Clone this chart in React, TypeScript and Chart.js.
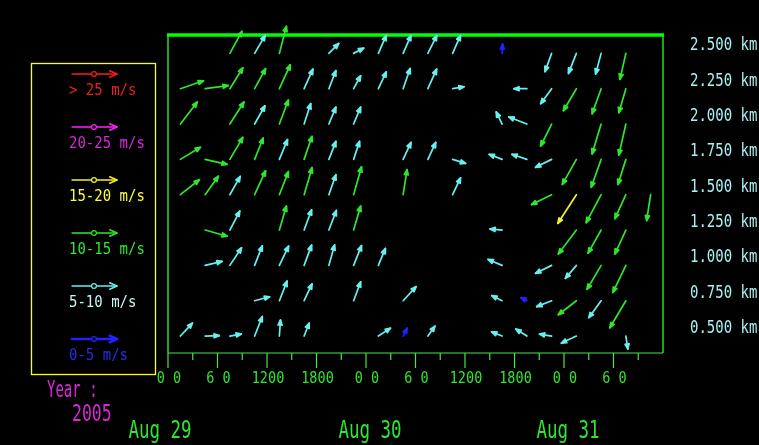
import React, { useEffect, useRef } from 'react';
import { Chart, registerables } from 'chart.js';
Chart.register(...registerables);

// Each observation: [hour since 00 UTC Aug 29, u (m/s, east), v (m/s, north)]
const GATE_2500 = [[7.5,5.5,10.0],[10.5,4.8,8.2],[13.5,3.2,12.3],[19.5,4.5,4.5],[22.5,4.6,2.4],[25.5,3.6,8.2],[28.5,3.6,8.2],[31.5,4.1,8.2],[34.5,3.6,8.2],[40.5,0.2,4.3],[46.5,-3.0,-8.3],[49.5,-3.6,-9.1],[52.5,-2.5,-9.4],[55.5,-2.7,-11.8]];
const GATE_2250 = [[1.5,10.5,3.6],[4.5,10.5,1.4],[7.5,5.9,9.5],[10.5,5.0,9.1],[13.5,5.0,10.9],[16.5,4.0,8.9],[19.5,3.2,8.2],[22.5,3.2,5.9],[25.5,3.6,7.7],[28.5,3.2,9.2],[31.5,4.0,8.9],[34.5,5.2,0.9],[43.5,-5.9,0],[46.5,-5.0,-6.8],[49.5,-5.9,-10.0],[52.5,-4.1,-11.4],[55.5,-3.2,-10.9]];
const GATE_2000 = [[1.5,7.7,10.0],[7.5,6.4,10.0],[10.5,4.7,8.3],[13.5,4.1,10.9],[16.5,3.0,9.3],[19.5,3.2,7.7],[22.5,3.2,7.7],[40.5,-2.7,5.5],[43.5,-8.2,3.2],[46.5,-5.0,-10.0],[52.5,-4.1,-13.6],[55.5,-3.2,-14.1]];
const GATE_1750 = [[1.5,9.1,5.5],[4.5,10.0,-2.3],[7.5,5.9,10.0],[10.5,3.9,9.7],[13.5,3.7,9.0],[16.5,3.6,10.5],[19.5,3.2,8.2],[22.5,2.7,8.2],[28.5,3.6,7.7],[31.5,3.6,7.7],[34.5,5.9,-1.8],[40.5,-5.9,2.3],[43.5,-6.8,2.3],[46.5,-7.3,-3.6],[49.5,-6.4,-11.4],[52.5,-4.5,-12.7],[55.5,-3.6,-11.4]];
const GATE_1500 = [[1.5,8.6,6.8],[4.5,6.0,8.4],[7.5,4.7,8.3],[10.5,5.0,10.9],[13.5,4.1,10.5],[16.5,3.6,12.3],[19.5,3.2,9.1],[22.5,3.6,12.7],[28.5,1.8,11.4],[34.5,3.6,7.7],[46.5,-9.1,-4.5],[49.5,-8.4,-13.0],[52.5,-6.8,-12.7],[55.5,-5.0,-10.9],[58.5,-1.8,-11.8]];
const GATE_1250 = [[4.5,10.0,-2.8],[7.5,4.5,8.6],[13.5,3.2,10.9],[16.5,3.4,9.2],[19.5,3.4,8.9],[22.5,3.2,10.9],[40.5,-5.5,0.5],[49.5,-8.2,-10.9],[52.5,-5.9,-10.5],[55.5,-5.0,-10.9]];
const GATE_1000 = [[4.5,7.7,1.8],[7.5,5.3,8.0],[10.5,3.5,8.9],[13.5,4.2,8.8],[16.5,3.4,9.2],[19.5,2.6,9.3],[22.5,3.6,9.0],[25.5,3.2,7.7],[40.5,-6.4,2.7],[46.5,-7.3,-3.6],[49.5,-5.0,-5.9],[52.5,-6.4,-10.9],[55.5,-5.9,-12.3]];
const GATE_0750 = [[10.5,6.8,1.8],[13.5,3.5,8.9],[16.5,3.6,7.7],[22.5,3.2,8.6],[28.5,5.9,6.4],[40.5,-4.7,2.3],[43.5,-2.7,1.4],[46.5,-6.8,-2.7],[49.5,-8.2,-6.4],[52.5,-5.6,-7.7],[55.5,-7.3,-12.3]];
const GATE_0500 = [[1.5,5.5,5.9],[4.5,6.4,0.2],[7.5,5.2,0.9],[10.5,3.5,8.9],[13.5,0.5,7.3],[16.5,2.3,5.9],[25.5,5.5,3.6],[28.5,1.8,3.6],[31.5,3.2,4.5],[40.5,-4.8,1.9],[43.5,-5.0,3.2],[46.5,-5.5,0.9],[49.5,-6.8,-3.2],[55.5,0.9,-5.9]];

const GATE_HEIGHTS = [2.5, 2.25, 2.0, 1.75, 1.5, 1.25, 1.0, 0.75, 0.5];
const GATE_ROWS = [GATE_2500, GATE_2250, GATE_2000, GATE_1750, GATE_1500, GATE_1250, GATE_1000, GATE_0750, GATE_0500];

const LEGEND_LABELS = ['> 25 m/s', '20-25 m/s', '15-20 m/s', '10-15 m/s', '5-10 m/s', '0-5 m/s'];
const BIN_LOW = [25, 20, 15, 10, 5, 0];
const BIN_HIGH = [999, 25, 20, 15, 10, 5];
const ARROW_COLORS = ['#ff1a1a', '#ff22ff', '#f4f420', '#2ee62e', '#66f0f0', '#2222ff'];
const LEGEND_TEXT_COLORS = ['#e82020', '#d828d8', '#ffff30', '#30e830', '#c8f4f4', '#2a2ae8'];

const X_TICK_HOURS = [0, 6, 12, 18, 24, 30, 36, 42, 48, 54];
const X_TICK_LABELS = ['0 0', '6 0', '1200', '1800', '0 0', '6 0', '1200', '1800', '0 0', '6 0'];
const MINOR_TICK_HOURS = [3, 9, 15, 21, 27, 33, 39, 45, 51, 57];
const DATE_HOURS = [0, 24, 48];
const DATE_LABELS = ['Aug 29', 'Aug 30', 'Aug 31'];
const YEAR = '2005';

const PX_PER_MS = 2.2;
const MONO = '"DejaVu Sans Mono", "Liberation Mono", monospace';

function txt(ctx: CanvasRenderingContext2D, s: string, x: number, y: number, size: number, color: string, align: CanvasTextAlign, sy: number) {
  ctx.save();
  ctx.translate(x, y);
  ctx.scale(1, sy);
  ctx.font = `${size}px ${MONO}`;
  ctx.fillStyle = color;
  ctx.textAlign = align;
  ctx.textBaseline = 'middle';
  ctx.fillText(s, 0, 0);
  ctx.restore();
}

function arrow(ctx: CanvasRenderingContext2D, x0: number, y0: number, x1: number, y1: number, color: string, lw: number, head: number, filled: boolean) {
  const a = Math.atan2(y1 - y0, x1 - x0);
  const spread = filled ? 0.38 : 0.42;
  const p1x = x1 - head * Math.cos(a - spread), p1y = y1 - head * Math.sin(a - spread);
  const p2x = x1 - head * Math.cos(a + spread), p2y = y1 - head * Math.sin(a + spread);
  ctx.save();
  ctx.strokeStyle = color;
  ctx.fillStyle = color;
  ctx.lineWidth = lw;
  ctx.lineCap = 'round';
  ctx.lineJoin = 'round';
  ctx.beginPath();
  ctx.moveTo(x0, y0);
  ctx.lineTo(x1, y1);
  ctx.stroke();
  ctx.beginPath();
  ctx.moveTo(p1x, p1y);
  ctx.lineTo(x1, y1);
  ctx.lineTo(p2x, p2y);
  if (filled) {
    ctx.closePath();
    ctx.fill();
  }
  ctx.stroke();
  ctx.restore();
}

const windPlugin = {
  id: 'windProfiler',
  beforeDraw(chart: any) {
    const ctx = chart.ctx;
    ctx.save();
    ctx.fillStyle = '#000';
    ctx.fillRect(0, 0, chart.width, chart.height);
    ctx.restore();
  },
  beforeDatasetsDraw(chart: any) {
    const ctx = chart.ctx as CanvasRenderingContext2D;
    const xs = chart.scales.x, ys = chart.scales.y;
    const L = xs.getPixelForValue(xs.min), R = xs.getPixelForValue(xs.max);
    const T = ys.getPixelForValue(ys.max), B = ys.getPixelForValue(ys.min);
    ctx.save();
    ctx.strokeStyle = '#22e022';
    ctx.lineWidth = 1.5;
    ctx.beginPath();
    ctx.moveTo(L, T); ctx.lineTo(L, B);
    ctx.moveTo(R, T); ctx.lineTo(R, B);
    ctx.stroke();
    ctx.strokeStyle = '#44e844';
    ctx.lineWidth = 1.2;
    ctx.beginPath();
    ctx.moveTo(L, B); ctx.lineTo(R, B);
    X_TICK_HOURS.forEach((h) => { const px = xs.getPixelForValue(h); ctx.moveTo(px, B); ctx.lineTo(px, B + 15); });
    MINOR_TICK_HOURS.forEach((h) => { const px = xs.getPixelForValue(h); ctx.moveTo(px, B); ctx.lineTo(px, B + 7); });
    ctx.stroke();
    ctx.strokeStyle = '#00ff00';
    ctx.lineWidth = 3.5;
    ctx.beginPath();
    ctx.moveTo(L - 1, T); ctx.lineTo(R + 1, T);
    ctx.stroke();
    ctx.restore();

    X_TICK_HOURS.forEach((h, i) => txt(ctx, X_TICK_LABELS[i], xs.getPixelForValue(h) + 1, B + 26, 13.5, '#2ee62e', 'center', 1.15));
    DATE_HOURS.forEach((h, i) => txt(ctx, DATE_LABELS[i], xs.getPixelForValue(h) + (i === 0 ? -8 : 4), B + 79, 17.5, '#2ee62e', 'center', 1.4));
    GATE_HEIGHTS.forEach((h) => txt(ctx, `${h.toFixed(3)} km`, R + 27, ys.getPixelForValue(h) - 7.5, 14, '#a8f2f2', 'left', 1.25));
  },
  afterDatasetsDraw(chart: any) {
    const ctx = chart.ctx as CanvasRenderingContext2D;
    chart.data.datasets.forEach((ds: any, di: number) => {
      const meta = chart.getDatasetMeta(di);
      meta.data.forEach((pt: any, i: number) => {
        const d = ds.data[i];
        arrow(ctx, pt.x, pt.y, pt.x + d.u * PX_PER_MS, pt.y - d.v * PX_PER_MS, ds.borderColor, 1.7, 5.5, true);
      });
    });
  },
  afterDraw(chart: any) {
    const ctx = chart.ctx as CanvasRenderingContext2D;
    ctx.save();
    ctx.strokeStyle = '#ffff00';
    ctx.lineWidth = 1.3;
    ctx.strokeRect(31.5, 63.5, 124, 311);
    ctx.restore();
    LEGEND_LABELS.forEach((lab, i) => {
      const ay = 74 + i * 53;
      arrow(ctx, 72, ay, 117, ay, ARROW_COLORS[i], i === 5 ? 2.6 : 1.4, 8, false);
      ctx.save();
      ctx.strokeStyle = ARROW_COLORS[i];
      ctx.fillStyle = '#000';
      ctx.lineWidth = 1.2;
      ctx.beginPath();
      ctx.arc(94, ay, 2.4, 0, Math.PI * 2);
      ctx.fill();
      ctx.stroke();
      ctx.restore();
      txt(ctx, lab, 69, ay + 17, 14, LEGEND_TEXT_COLORS[i], 'left', 1.15);
    });
    txt(ctx, 'Year :', 47, 391, 14, '#d828d8', 'left', 1.6);
    txt(ctx, YEAR, 72, 415, 16.5, '#d828d8', 'left', 1.35);
  },
};

export default function App() {
  const ref = useRef<HTMLCanvasElement>(null);
  useEffect(() => {
    document.body.style.margin = '0';
    document.body.style.background = '#000';
    const datasets = LEGEND_LABELS.map((lab, bi) => {
      const data: any[] = [];
      GATE_ROWS.forEach((row, ri) => {
        row.forEach(([hr, u, v]) => {
          const s = Math.hypot(u, v);
          if (s >= BIN_LOW[bi] && s < BIN_HIGH[bi]) data.push({ x: hr, y: GATE_HEIGHTS[ri], u, v });
        });
      });
      return { label: lab, data, borderColor: ARROW_COLORS[bi], backgroundColor: ARROW_COLORS[bi], pointRadius: 0, showLine: false };
    });
    const chart = new Chart(ref.current!, {
      type: 'scatter',
      data: { datasets },
      options: {
        animation: false,
        responsive: false,
        devicePixelRatio: 1,
        layout: { padding: { left: 168, top: 35, right: 96, bottom: 92 } },
        scales: {
          x: { type: 'linear', min: 0, max: 60, display: false },
          y: { type: 'linear', min: 0.38, max: 2.63, display: false },
        },
        plugins: { legend: { display: false }, tooltip: { enabled: false } },
      },
      plugins: [windPlugin],
    } as any);
    return () => chart.destroy();
  }, []);
  return (
    <div style={{ position: 'fixed', left: 0, top: 0, width: 759, height: 445, background: '#000' }}>
      <canvas ref={ref} width={759} height={445} style={{ display: 'block' }} />
    </div>
  );
}
